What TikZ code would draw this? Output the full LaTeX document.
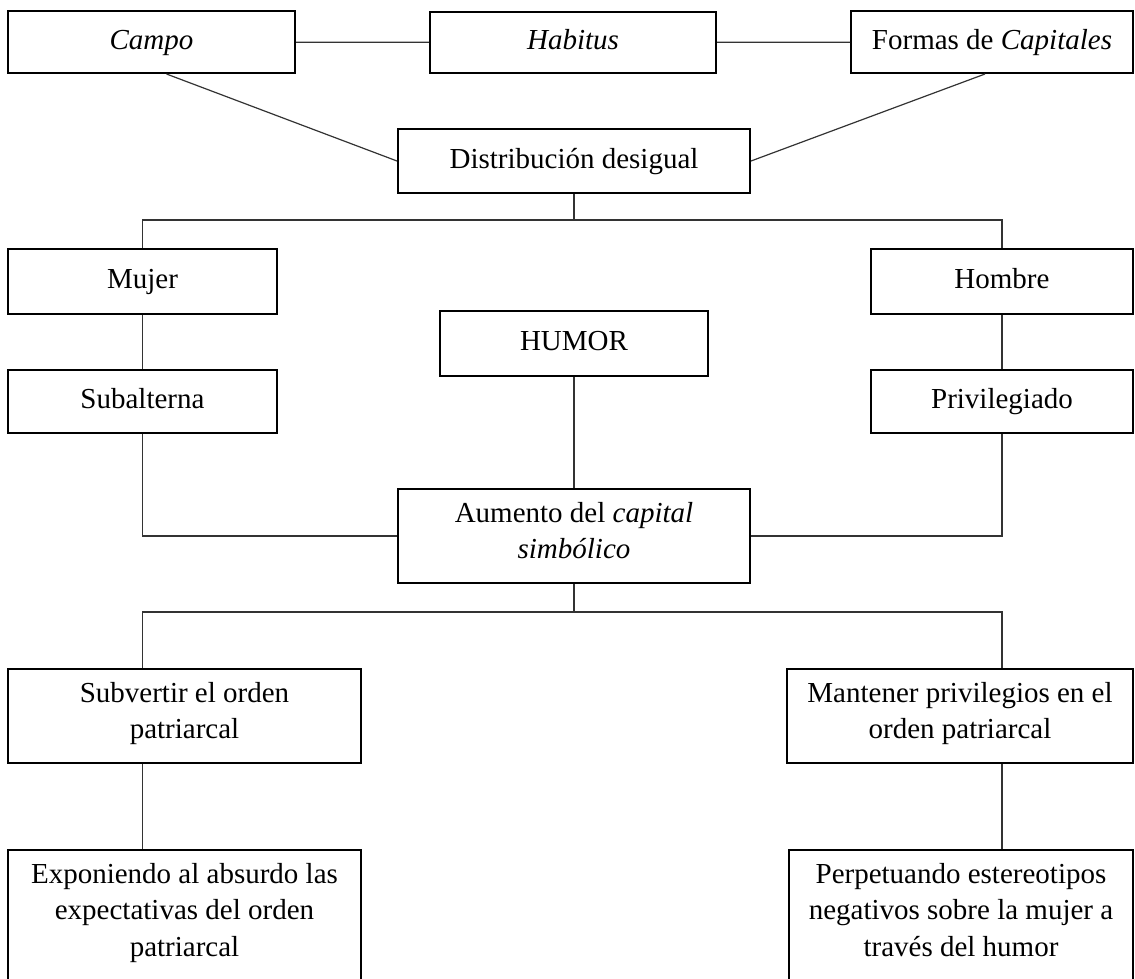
\documentclass[tikz,border=0pt]{standalone}
\usepackage{fontspec}
\setmainfont{Liberation Serif}

\begin{document}
\begin{tikzpicture}[x=1pt,y=-1pt,
  box/.style={draw,line width=2pt,inner sep=0pt,align=center,font=\fontsize{29}{36.5}\selectfont,
    execute at begin node=\strut,execute at end node=\strut},
  link/.style={draw=link_line,line width=1.2pt}]
\colorlet{link_line}{black!80}
\useasboundingbox (0,0) rectangle (1135,978);

% Top row
\node[box,minimum width=287pt,minimum height=62pt] (campo) at (151.5,42) {\textit{Campo}};
\node[box,minimum width=286pt,minimum height=61pt] (habitus) at (573,42.5) {\textit{Habitus}};
\node[box,minimum width=282pt,minimum height=62pt] (formas) at (992,42) {Formas de \textit{Capitales}};
\node[box,minimum width=352pt,minimum height=64pt] (dist) at (574,161) {Distribución desigual};

% Middle
\node[box,minimum width=269pt,minimum height=65pt] (mujer) at (142.5,281.5) {Mujer};
\node[box,minimum width=262pt,minimum height=65pt] (hombre) at (1002,281.5) {Hombre};
\node[box,minimum width=268pt,minimum height=65pt] (humor) at (574,343.5) {HUMOR};
\node[box,minimum width=269pt,minimum height=63pt] (sub) at (142.5,401.5) {Subalterna};
\node[box,minimum width=262pt,minimum height=63pt] (priv) at (1002,401.5) {Privilegiado};
\node[box,minimum width=352pt,minimum height=94pt] (aum) at (574,536) {Aumento del \textit{capital}\\\textit{simbólico}};

% Bottom
\node[box,minimum width=353pt,minimum height=94pt] (subv) at (184.5,716) {Subvertir el orden\\patriarcal};
\node[box,minimum width=346pt,minimum height=94pt] (mant) at (960,716) {Mantener privilegios en el\\orden patriarcal};
\node[box,minimum width=353pt,minimum height=130pt] (expo) at (184.5,915) {Exponiendo al absurdo las\\expectativas del orden\\patriarcal};
\node[box,minimum width=344pt,minimum height=130pt] (perp) at (961,915) {Perpetuando estereotipos\\negativos sobre la mujer a\\través del humor};

\coordinate (split_top) at (574,220);
\coordinate (split_bot) at (574,612);

% Connectors
\path[link] (campo) -- (habitus) -- (formas);
\path[link] ([xshift=15pt]campo.south) -- (dist.west);
\path[link] ([xshift=-7pt]formas.south) -- (dist.east);
\path[link] (dist.south) -- (split_top);
\path[link] (mujer.north) |- (split_top) -| (hombre.north);
\path[link] (mujer) -- (sub);
\path[link] (hombre) -- (priv);
\path[link] (sub.south) |- (aum.west);
\path[link] (priv.south) |- (aum.east);
\path[link] (humor) -- (aum);
\path[link] (aum.south) -- (split_bot);
\path[link] (mujer.south |- subv.north) |- (split_bot) -| (hombre.south |- mant.north);
\path[link] (mujer.south |- subv.south) -- (mujer.south |- expo.north);
\path[link] (hombre.south |- mant.south) -- (hombre.south |- perp.north);
\end{tikzpicture}
\end{document}
